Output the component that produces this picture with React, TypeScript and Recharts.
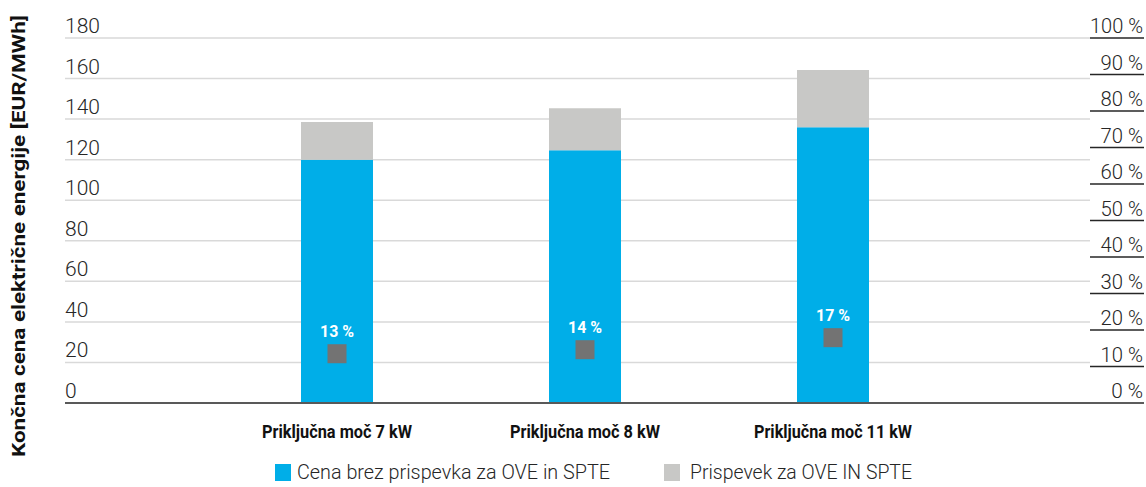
import React from 'react';
import { ComposedChart, Bar, Scatter, XAxis, YAxis, CartesianGrid, Legend } from 'recharts';

// ---- data ----
const categories = ['Priključna moč 7 kW', 'Priključna moč 8 kW', 'Priključna moč 11 kW'];
const basePrice = [120, 124.6, 136];
const contribution = [18.6, 20.8, 28.2];
const sharePct = [13.5, 14.6, 17.9];
const shareLabels = ['13 %', '14 %', '17 %'];
const leftTicks = [0, 20, 40, 60, 80, 100, 120, 140, 160, 180];
const rightTicks = [0, 10, 20, 30, 40, 50, 60, 70, 80, 90, 100];
const seriesNames = ['Cena brez prispevka za OVE in SPTE', 'Prispevek za OVE IN SPTE'];
const yTitle = 'Končna cena električne energije [EUR/MWh]';

const data = categories.map((c, i) => ({
  category: c,
  base: basePrice[i],
  contrib: contribution[i],
  share: sharePct[i],
  label: shareLabels[i],
}));

// ---- layout / style ----
const W = 1146;
const H = 487;
const PLOT_LEFT = 65;
const PLOT_RIGHT = 1090;
const PLOT_BOTTOM = 403;
const FONT = 'Roboto, "Liberation Sans", sans-serif';
const TEXT = '#262626';
const BLUE = '#00AEE8';
const GRAY = '#C8C8C6';
const MARK = '#737373';

const LeftTick = (props: any) => {
  const { y, payload } = props;
  return (
    <text x={PLOT_LEFT} y={y - 5} fontSize={21} fontWeight={300} fontFamily={FONT} fill={TEXT} textAnchor="start">
      {payload.value}
    </text>
  );
};

const RightTick = (props: any) => {
  const { y, payload } = props;
  const s = `${payload.value} %`;
  return (
    <g>
      <line x1={PLOT_RIGHT} x2={W - 2} y1={y} y2={y} stroke="#262626" strokeWidth={1.5} />
      <text x={W - 3} y={y - 5} fontSize={21} fontWeight={300} fontFamily={FONT} fill={TEXT} textAnchor="end"
        textLength={s.length * 10.6} lengthAdjust="spacingAndGlyphs">
        {s}
      </text>
    </g>
  );
};

const CatTick = (props: any) => {
  const { x, payload } = props;
  const s = String(payload.value);
  return (
    <text
      x={x}
      y={PLOT_BOTTOM + 35}
      fontSize={17.5}
      fontWeight={700}
      fontFamily={FONT}
      fill="#111"
      textAnchor="middle"
      textLength={s.length * 7.9}
      lengthAdjust="spacingAndGlyphs"
    >
      {s}
    </text>
  );
};

const TitleLabel = () => {
  const cx = 25;
  const cy = 236;
  return (
    <text
      x={cx}
      y={cy}
      transform={`rotate(-90, ${cx}, ${cy})`}
      fontSize={18.5}
      fontWeight={700}
      fontFamily={FONT}
      fill="#111"
      textAnchor="middle"
      textLength={442}
      lengthAdjust="spacingAndGlyphs"
    >
      {yTitle}
    </text>
  );
};

const SquareMarker = (props: any) => {
  const { cx, cy, payload } = props;
  return (
    <g>
      <rect x={cx - 9.5} y={cy - 9.5} width={19} height={19} fill={MARK} />
      <text
        x={cx}
        y={cy - 17}
        fontSize={17}
        fontWeight={700}
        fontFamily={FONT}
        fill="#fff"
        textAnchor="middle"
        textLength={34}
        lengthAdjust="spacingAndGlyphs"
      >
        {payload.label}
      </text>
    </g>
  );
};

const LegendContent = () => (
  <svg width={W} height={24} style={{ display: 'block' }}>
    <rect x={275} y={3} width={16} height={17} fill={BLUE} />
    <text x={297} y={18} fontSize={20} fontWeight={300} fontFamily={FONT} fill={TEXT} textLength={313} lengthAdjust="spacingAndGlyphs">
      {seriesNames[0]}
    </text>
    <rect x={664} y={3} width={16} height={17} fill={GRAY} />
    <text x={690} y={18} fontSize={20} fontWeight={300} fontFamily={FONT} fill={TEXT} textLength={222} lengthAdjust="spacingAndGlyphs">
      {seriesNames[1]}
    </text>
  </svg>
);

export default function App() {
  return (
    <div style={{ position: 'fixed', left: 0, top: 0, width: W, height: H, background: '#fff' }}>
      <ComposedChart width={W} height={H} data={data} margin={{ top: 38, right: 0, bottom: 30, left: 0 }}>
        <CartesianGrid yAxisId="left" horizontal vertical={false} stroke="#D9D9D9" strokeWidth={1.5} />
        <XAxis
          dataKey="category"
          padding={{ left: 148, right: 133 }}
          height={30}
          tickLine={false}
          axisLine={{ stroke: '#595959', strokeWidth: 2 }}
          tick={<CatTick />}
          interval={0}
        />
        <YAxis
          yAxisId="left"
          domain={[0, 180]}
          ticks={leftTicks}
          width={65}
          axisLine={false}
          tickLine={false}
          tick={<LeftTick />}
          label={{ content: <TitleLabel /> }}
        />
        <YAxis
          yAxisId="right"
          orientation="right"
          domain={[0, 100]}
          ticks={rightTicks}
          width={56}
          axisLine={false}
          tickLine={false}
          tick={<RightTick />}
        />
        <Bar yAxisId="left" dataKey="base" stackId="a" fill={BLUE} barSize={72} name={seriesNames[0]} isAnimationActive={false} />
        <Bar yAxisId="left" dataKey="contrib" stackId="a" fill={GRAY} barSize={72} name={seriesNames[1]} isAnimationActive={false} />
        <Scatter yAxisId="right" dataKey="share" shape={<SquareMarker />} legendType="none" isAnimationActive={false} />
        <Legend content={<LegendContent />} height={24} wrapperStyle={{ top: 461, left: 0, bottom: 'auto', width: W }} />
      </ComposedChart>
    </div>
  );
}
